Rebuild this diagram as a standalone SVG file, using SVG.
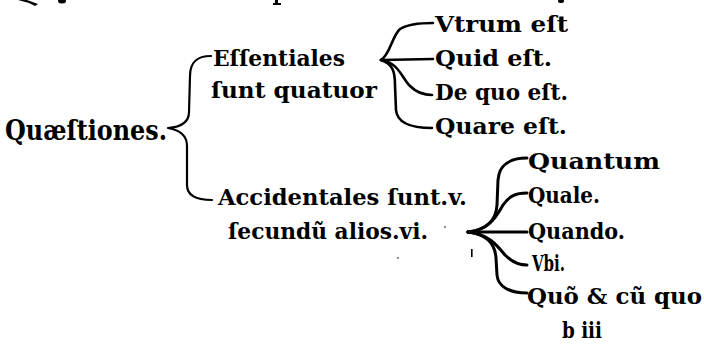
<svg xmlns="http://www.w3.org/2000/svg" width="704" height="347" viewBox="0 0 704 347">
<style>
.t{font-family:"DejaVu Serif","Liberation Serif",serif;font-weight:bold;fill:#000;font-size:23px}
.big{font-size:27px}
.c{fill:none;stroke:#000;stroke-width:2.2;stroke-linecap:round;stroke-linejoin:round}
.c1{fill:none;stroke:#000;stroke-width:2.6;stroke-linecap:round;stroke-linejoin:round}
.c2{fill:none;stroke:#000;stroke-width:3;stroke-linecap:round;stroke-linejoin:round}
.ink{fill:#000}
</style>
<rect width="704" height="347" fill="#fff"/>
<g id="scan-fragments" class="ink">
<polygon points="18,0 27,0 38,4 35,6 29,3"/>
<ellipse cx="62" cy="1" rx="4" ry="2.5"/>
<rect x="275" y="0" width="3" height="4"/>
<rect x="273" y="3" width="8" height="2"/>
<ellipse cx="561" cy="1" rx="3" ry="2"/>
<rect x="471" y="249" width="1.6" height="8"/>
<circle cx="445" cy="227" r="0.8"/>
<circle cx="398" cy="258" r="0.8"/>
</g>
<g id="connectors">
<path class="c" d="M211,56 C197,56 190,62 190,76 L189,112 C189,122 181,127 168,128 C180,130 187,136 187,146 L187,185 C187,196 196,200 212,200"/>
<path class="c1" d="M381,60 C390,55 392,36 400,29 C408,24 420,23 433,23"/>
<path class="c1" d="M381,60 L433,59"/>
<path class="c1" d="M381,60 C398,62 402,78 410,86 C416,92 424,95 432,95"/>
<path class="c1" d="M381,60 C392,64 395,70 395,85 L396,110 C397,122 410,128 432,128"/>
<path class="c2" d="M468,232 C485,230 496,222 497,205 L498,180 C499,165 510,158 527,158"/>
<path class="c2" d="M468,232 C490,230 497,215 503,205 C509,196 516,193 527,193"/>
<path class="c2" d="M468,232 L527,232"/>
<path class="c2" d="M468,232 C488,234 497,245 505,255 C512,262 518,265 527,265"/>
<path class="c2" d="M468,232 C485,234 495,242 496,258 L497,275 C498,287 510,293 527,293"/>
</g>
<g id="n-quaestiones"><text class="t big" x="5" y="140" textLength="162" lengthAdjust="spacingAndGlyphs">Quæſtiones.</text></g>
<g id="n-essentiales">
<text class="t" x="213" y="66" textLength="132" lengthAdjust="spacingAndGlyphs">Eſſentiales</text>
<text class="t" x="211" y="98" textLength="166" lengthAdjust="spacingAndGlyphs">ſunt quatuor</text>
</g>
<g id="n-accidentales">
<text class="t" x="218" y="205" textLength="249" lengthAdjust="spacingAndGlyphs">Accidentales ſunt.v.</text>
<text class="t" x="228" y="239" textLength="200" lengthAdjust="spacingAndGlyphs">ſecundũ alios.vi.</text>
</g>
<g id="n-utrum"><text class="t" x="435" y="32" textLength="133" lengthAdjust="spacingAndGlyphs">Vtrum eſt</text></g>
<g id="n-quid"><text class="t" x="435" y="66" textLength="117" lengthAdjust="spacingAndGlyphs">Quid eſt.</text></g>
<g id="n-dequo"><text class="t" x="435" y="100" textLength="133" lengthAdjust="spacingAndGlyphs">De quo eſt.</text></g>
<g id="n-quare"><text class="t" x="435" y="134" textLength="132" lengthAdjust="spacingAndGlyphs">Quare eſt.</text></g>
<g id="n-quantum"><text class="t" x="528" y="169" textLength="132" lengthAdjust="spacingAndGlyphs">Quantum</text></g>
<g id="n-quale"><text class="t" x="528" y="203" textLength="72" lengthAdjust="spacingAndGlyphs">Quale.</text></g>
<g id="n-quando"><text class="t" x="528" y="239" textLength="97" lengthAdjust="spacingAndGlyphs">Quando.</text></g>
<g id="n-ubi"><text class="t" x="532" y="271" textLength="33" lengthAdjust="spacingAndGlyphs">Vbi.</text></g>
<g id="n-quo"><text class="t" x="527" y="304" textLength="175" lengthAdjust="spacingAndGlyphs">Quõ &amp; cũ quo</text></g>
<g id="n-signature"><text class="t" x="562" y="338" textLength="40" lengthAdjust="spacingAndGlyphs">b iii</text></g>
</svg>
